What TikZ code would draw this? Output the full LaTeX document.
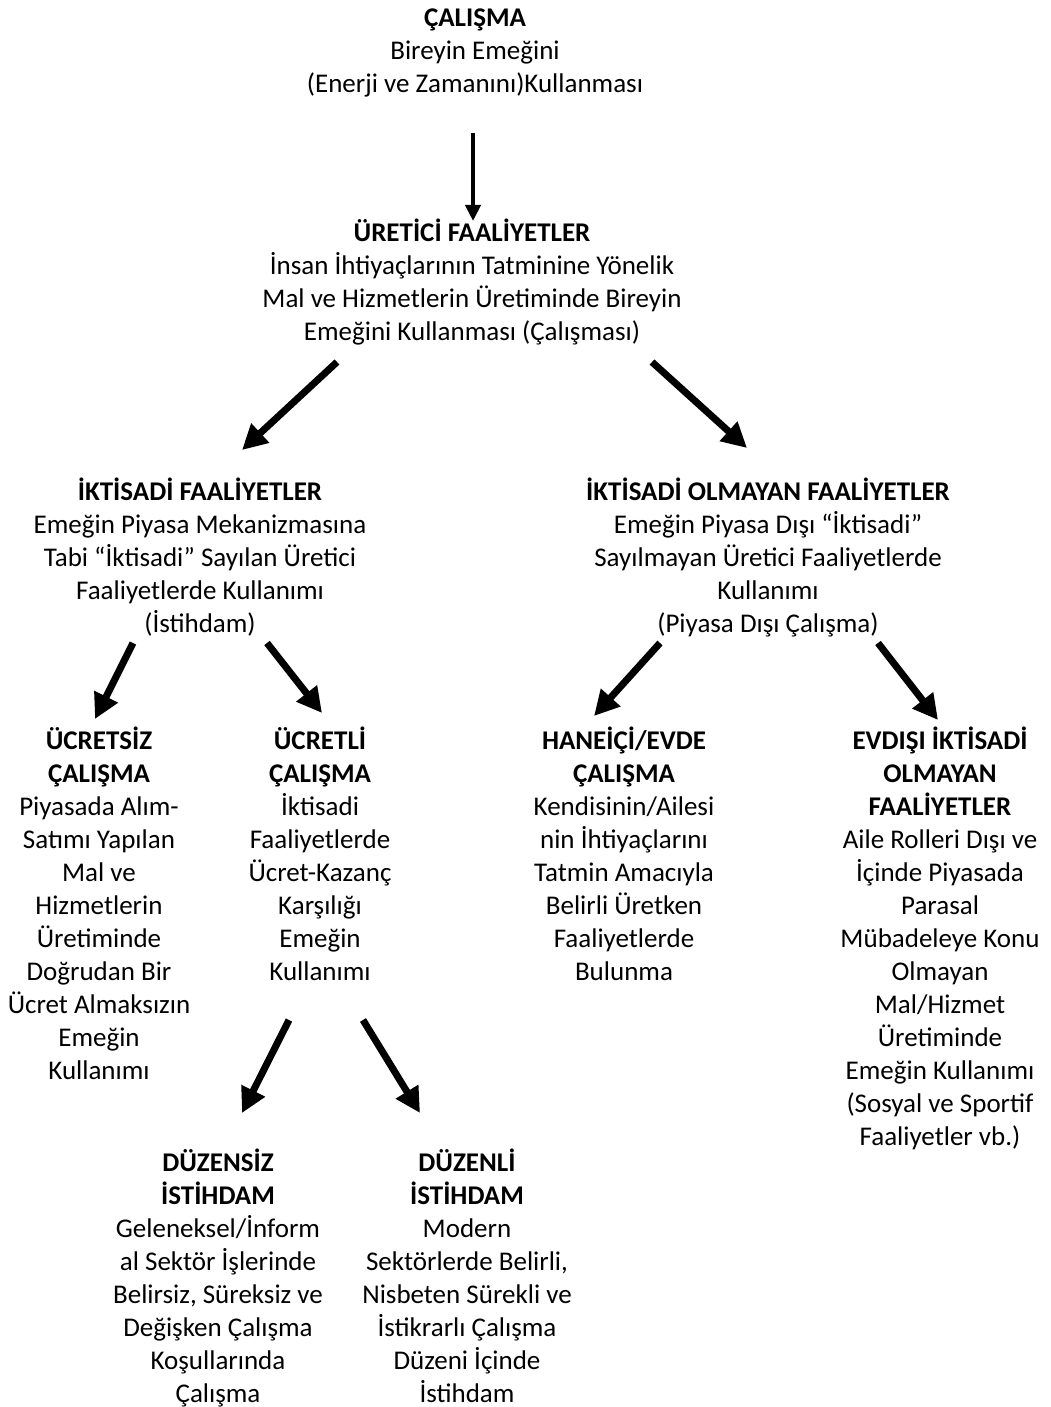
\documentclass[tikz,border=0pt]{standalone}
\usepackage{fontspec}
\setmainfont{Carlito}
\usepackage{tikz}
\usetikzlibrary{
    positioning,
    arrows.meta
}
\tikzset{
    metin/.style={
        anchor=north,
        align=center,
        inner sep=0pt,
        font=\fontsize{13.5}{16.5}\selectfont
    },
    okince/.style={
        line width=2pt,
        -{Triangle[length=8pt,width=7.5pt]}
    },
    okkalin/.style={
        line width=3.5pt,
        -{Triangle[length=12.5pt,width=12.5pt]}
    }
}

\begin{document}
\begin{tikzpicture}[
    x=0.5pt,
    y=-0.5pt
]

    \useasboundingbox (0,0) rectangle (1050,1407);

    % Kök
    \node[metin] (calisma) at (475,3.4)
        {\strut\textbf{ÇALIŞMA}\\Bireyin Emeğini\\(Enerji ve Zamanını)Kullanması};

    \node[metin] (uretici) at (472,218.4)
        {\strut\textbf{ÜRETİCİ FAALİYETLER}\\İnsan İhtiyaçlarının Tatminine Yönelik\\Mal ve Hizmetlerin Üretiminde Bireyin\\Emeğini Kullanması (Çalışması)};

    % İkinci düzey
    \node[metin] (iktisadi) at (200,477.4)
        {\strut\textbf{İKTİSADİ FAALİYETLER}\\Emeğin Piyasa Mekanizmasına\\Tabi “İktisadi” Sayılan Üretici\\Faaliyetlerde Kullanımı\\(İstihdam)};

    \node[metin] (olmayan) at (768,477.4)
        {\strut\textbf{İKTİSADİ OLMAYAN FAALİYETLER}\\Emeğin Piyasa Dışı “İktisadi”\\Sayılmayan Üretici Faaliyetlerde\\Kullanımı\\(Piyasa Dışı Çalışma)};

    % Üçüncü düzey
    \node[metin] (ucretsiz) at (99,726.4)
        {\strut\textbf{ÜCRETSİZ}\\\textbf{ÇALIŞMA}\\Piyasada Alım-\\Satımı Yapılan\\Mal ve\\Hizmetlerin\\Üretiminde\\Doğrudan Bir\\Ücret Almaksızın\\Emeğin\\Kullanımı};

    \node[metin] (ucretli) at (320,726.4)
        {\strut\textbf{ÜCRETLİ}\\\textbf{ÇALIŞMA}\\İktisadi\\Faaliyetlerde\\Ücret-Kazanç\\Karşılığı\\Emeğin\\Kullanımı};

    \node[metin] (haneici) at (624,726.4)
        {\strut\textbf{HANEİÇİ/EVDE}\\\textbf{ÇALIŞMA}\\Kendisinin/Ailesi\\nin İhtiyaçlarını\\Tatmin Amacıyla\\Belirli Üretken\\Faaliyetlerde\\Bulunma};

    \node[metin] (evdisi) at (940,726.4)
        {\strut\textbf{EVDIŞI İKTİSADİ}\\\textbf{OLMAYAN}\\\textbf{FAALİYETLER}\\Aile Rolleri Dışı ve\\İçinde Piyasada\\Parasal\\Mübadeleye Konu\\Olmayan\\Mal/Hizmet\\Üretiminde\\Emeğin Kullanımı\\(Sosyal ve Sportif\\Faaliyetler vb.)};

    % Dördüncü düzey
    \node[metin] (duzensiz) at (218,1148.4)
        {\strut\textbf{DÜZENSİZ}\\\textbf{İSTİHDAM}\\Geleneksel/İnform\\al Sektör İşlerinde\\Belirsiz, Süreksiz ve\\Değişken Çalışma\\Koşullarında\\Çalışma};

    \node[metin] (duzenli) at (467,1148.4)
        {\strut\textbf{DÜZENLİ}\\\textbf{İSTİHDAM}\\Modern\\Sektörlerde Belirli,\\Nisbeten Sürekli ve\\İstikrarlı Çalışma\\Düzeni İçinde\\İstihdam};

    % Ok uçları
    \coordinate (o1a) at (473,133);  \coordinate (o1b) at (473,221);
    \coordinate (o2a) at (337,362);  \coordinate (o2b) at (242,450);
    \coordinate (o3a) at (652,362);  \coordinate (o3b) at (747,448);
    \coordinate (o4a) at (133,643);  \coordinate (o4b) at (95,719);
    \coordinate (o5a) at (267,643);  \coordinate (o5b) at (322,713);
    \coordinate (o6a) at (660,643);  \coordinate (o6b) at (594,716);
    \coordinate (o7a) at (878,643);  \coordinate (o7b) at (938,720);
    \coordinate (o8a) at (289,1020); \coordinate (o8b) at (242,1113);
    \coordinate (o9a) at (363,1020); \coordinate (o9b) at (420,1113);

    % Oklar
    \draw[okince]  (o1a) -- (o1b);
    \draw[okkalin] (o2a) -- (o2b);
    \draw[okkalin] (o3a) -- (o3b);
    \draw[okkalin] (o4a) -- (o4b);
    \draw[okkalin] (o5a) -- (o5b);
    \draw[okkalin] (o6a) -- (o6b);
    \draw[okkalin] (o7a) -- (o7b);
    \draw[okkalin] (o8a) -- (o8b);
    \draw[okkalin] (o9a) -- (o9b);

\end{tikzpicture}
\end{document}
